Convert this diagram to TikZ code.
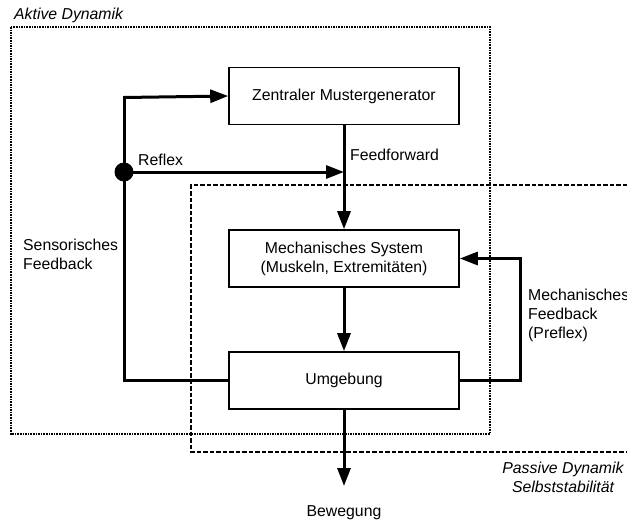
\documentclass[tikz,border=0pt]{standalone}
\usepackage{fontspec}
\setmainfont{Liberation Sans}
\usetikzlibrary{arrows.meta}
\begin{document}
\begin{tikzpicture}[x=1pt,y=-1pt,
  font=\fontsize{15.8}{19}\selectfont,
  blk/.style={draw,line width=1.6pt,fill=white,minimum width=230pt,minimum height=57pt,inner sep=0pt,align=center},
  conn/.style={line width=3pt},
  arr/.style={conn,-{Triangle[length=18pt,width=13pt]}},
  lbl/.style={inner sep=0pt,align=left},
  it/.style={inner sep=0pt,align=center,font=\fontsize{15.8}{19}\selectfont\itshape}]
\useasboundingbox (0,0) rectangle (627,525);
% frames
\draw[line width=1.6pt,dash pattern=on 1.6pt off 1pt] (11,27) rectangle (490,434);
\draw[line width=1.6pt,dash pattern=on 4.5pt off 2pt] (640,185) -- (191,185) -- (191,452) -- (640,452);
\node[it,anchor=west] (aktiv) at (14,15) {Aktive Dynamik};
\node[it] (passiv) at (563,477) {Passive Dynamik\\Selbststabilität};
% blocks
\node[blk] (zmg) at (344,96) {Zentraler Mustergenerator};
\node[blk] (mech) at (344,258.5) {Mechanisches System\\(Muskeln, Extremitäten)};
\node[blk] (umg) at (344,380.5) {Umgebung};
\node[lbl] (bew) at (344,513) {Bewegung};
% coordinates
\coordinate (dot) at (124,172);
\coordinate (lb) at (124,380.5);
\coordinate (lt) at (124,96);
\coordinate (merge) at (344,172);
\coordinate (rb) at (520,380.5);
\coordinate (rt) at (520,258.5);
\coordinate (out) at (344,486);
\fill (dot) circle (9.5pt);
% connectors
\draw[arr] (zmg.south) -- (mech.north);
\draw[arr] (mech.south) -- (umg.north);
\draw[arr] (umg.south) -- (out);
\draw[conn] (umg.west) -- (lb) -- (lt);
\draw[arr] (124,97.5) -- (zmg.west);
\draw[arr] (dot) -- (merge);
\draw[conn] (umg.east) -- (rb) -- (rt);
\draw[arr] (521.5,258.5) -- (mech.east);
% labels
\node[lbl,anchor=west] (reflex) at (138,160) {Reflex};
\node[lbl,anchor=west] (ff) at (350,155) {Feedforward};
\node[lbl,anchor=west] (sens) at (23,254) {Sensorisches\\Feedback};
\node[lbl,anchor=west] (mfb) at (528,315) {Mechanisches\\Feedback\\(Preflex)};
\end{tikzpicture}
\end{document}
